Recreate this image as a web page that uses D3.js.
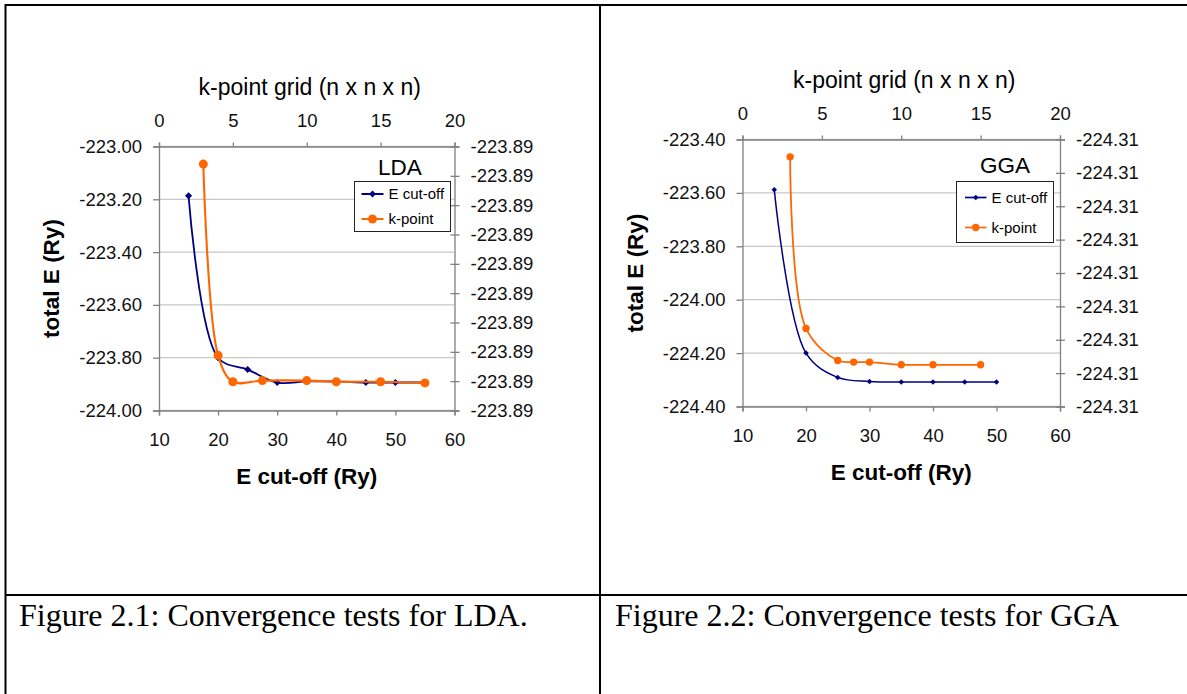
<!DOCTYPE html>
<meta charset="utf-8">
<script src="https://d3js.org/d3.v7.min.js"></script>
<style>
  body { margin: 0; background: #fff; }
  svg { display: block; }
</style>
<div id="my_dataviz"></div>
<script>

// ---- data ----
// LDA: total energy vs plane-wave cut-off (bottom / left axes)
var ldaEcut  = [15, 20, 25, 30, 35, 40, 45, 50, 55];
var ldaEcutE = [-223.187, -223.800, -223.845, -223.894, -223.890, -223.890, -223.894, -223.894, -223.894];
// LDA: total energy vs k-point grid (top / right axes)
var ldaKgrid  = [3, 4, 5, 7, 10, 12, 15, 18];
var ldaKgridE = [-223.88730, -223.89056, -223.89101, -223.89099, -223.89099, -223.89101, -223.89101, -223.89103];

// GGA
var ggaEcut  = [15, 20, 25, 30, 35, 40, 45, 50];
var ggaEcutE = [-223.588, -224.200, -224.291, -224.306, -224.3085, -224.3085, -224.3085, -224.3085];
var ggaKgrid  = [3, 4, 6, 7, 8, 10, 12, 15];
var ggaKgridE = [-224.30652, -224.31166, -224.31262, -224.31267, -224.31267, -224.31275, -224.31275, -224.31275];

// tick values
var ecutTicks  = [10, 20, 30, 40, 50, 60];
var kgridTicks = [0, 5, 10, 15, 20];
var ldaLeftTicks  = [-223.0, -223.2, -223.4, -223.6, -223.8, -224.0];
var ldaRightTicks = [-223.8870, -223.8875, -223.8880, -223.8885, -223.8890, -223.8895, -223.8900, -223.8905, -223.8910, -223.8915];
var ggaLeftTicks  = [-223.4, -223.6, -223.8, -224.0, -224.2, -224.4];
var ggaRightTicks = [-224.306, -224.307, -224.308, -224.309, -224.310, -224.311, -224.312, -224.313, -224.314];

var seriesNames = ["E cut-off", "k-point"];
var captions = ["Figure 2.1: Convergence tests for LDA.", "Figure 2.2: Convergence tests for GGA"];

var sans = "'Liberation Sans', Arial, sans-serif";
var blue = "#000080", orange = "#ff6600";

var svg = d3.select("#my_dataviz")
  .append("svg")
    .attr("width", 1187)
    .attr("height", 694);

// table grid of the document
var table = svg.append("g").attr("stroke", "#000").attr("stroke-width", 2).attr("fill", "none");
table.append("line").attr("x1", 5.5).attr("x2", 1187).attr("y1", 5).attr("y2", 5);
table.append("line").attr("x1", 5.5).attr("x2", 5.5).attr("y1", 4).attr("y2", 694);
table.append("line").attr("x1", 600).attr("x2", 600).attr("y1", 4).attr("y2", 694);
table.append("line").attr("x1", 5.5).attr("x2", 1187).attr("y1", 595).attr("y2", 595);

svg.selectAll(".caption")
  .data(captions)
  .enter().append("text")
    .attr("class", "caption")
    .attr("x", function(d, i) { return i == 0 ? 19 : 615; })
    .attr("y", 626)
    .style("font", "32px 'Liberation Serif', 'Times New Roman', serif")
    .text(function(d) { return d; });

function fmt(d) { return d.toFixed(2); }

function styleAxis(sel) {
  sel.select(".domain").attr("stroke", "#808080").attr("stroke-width", 1.3);
  sel.selectAll(".tick line").attr("stroke", "#808080").attr("stroke-width", 1.3);
  sel.selectAll(".tick text").attr("fill", "#111").style("font", "18.5px " + sans);
}

function drawPanel(p) {
  var g = svg.append("g");

  var x  = d3.scaleLinear().domain([10, 60]).range([p.left, p.right]);
  var x2 = d3.scaleLinear().domain([0, 20]).range([p.left, p.right]);
  var y  = d3.scaleLinear().domain([p.leftTicks[p.leftTicks.length - 1], p.leftTicks[0]]).range([p.bottom, p.top]);
  var y2 = d3.scaleLinear().domain([p.rightTicks[p.rightTicks.length - 1], p.rightTicks[0]]).range([p.bottom, p.top]);

  // gridlines
  g.append("g").selectAll("line")
    .data(p.leftTicks)
    .enter().append("line")
      .attr("x1", p.left).attr("x2", p.right)
      .attr("y1", function(d) { return y(d); })
      .attr("y2", function(d) { return y(d); })
      .attr("stroke", "#c8c8c8")
      .attr("stroke-width", 1.3);

  // axes
  g.append("g")
    .attr("transform", "translate(0," + p.bottom + ")")
    .call(d3.axisBottom(x).tickValues(ecutTicks).tickSize(5).tickPadding(17).tickFormat(d3.format("d")))
    .call(styleAxis);
  g.append("g")
    .attr("transform", "translate(0," + p.top + ")")
    .call(d3.axisTop(x2).tickValues(kgridTicks).tickSize(4).tickPadding(16).tickFormat(d3.format("d")))
    .call(styleAxis);
  g.append("g")
    .attr("transform", "translate(" + p.left + ",0)")
    .call(d3.axisLeft(y).tickValues(p.leftTicks).tickSize(6).tickPadding(11).tickFormat(fmt))
    .call(styleAxis);
  var ra = g.append("g")
    .attr("transform", "translate(" + p.right + ",0)")
    .call(d3.axisRight(y2).tickValues(p.rightTicks).tickSize(5).tickPadding(11).tickFormat(fmt))
    .call(styleAxis);
  ra.selectAll(".tick line").attr("x1", -4);

  // axis titles
  g.append("text")
    .attr("x", (p.left + p.right) / 2 + 3).attr("y", p.top - 52)
    .attr("text-anchor", "middle")
    .style("font", "23px " + sans)
    .text("k-point grid (n x n x n)");
  g.append("text")
    .attr("x", (p.left + p.right) / 2).attr("y", p.bottom + 73)
    .attr("text-anchor", "middle")
    .style("font", "bold 22.5px " + sans)
    .text("E cut-off (Ry)");
  g.append("text")
    .attr("transform", "translate(" + (p.left - 100) + "," + ((p.top + p.bottom) / 2) + ") rotate(-90)")
    .attr("text-anchor", "middle")
    .style("font", "bold 22.5px " + sans)
    .text("total E (Ry)");

  // series: E cut-off on primary axes, k-point on secondary axes
  var line1 = d3.line().curve(d3.curveCatmullRom)
    .x(function(d) { return x(d[0]); }).y(function(d) { return y(d[1]); });
  var line2 = d3.line().curve(d3.curveCatmullRom)
    .x(function(d) { return x2(d[0]); }).y(function(d) { return y2(d[1]); });

  var s1 = d3.zip(p.ecut, p.ecutE);
  var s2 = d3.zip(p.kgrid, p.kgridE);

  g.append("path").datum(s1)
    .attr("d", line1).attr("fill", "none").attr("stroke", blue).attr("stroke-width", p.lw);
  g.append("g").selectAll("path")
    .data(s1)
    .enter().append("path")
      .attr("d", d3.symbol(d3.symbolSquare, p.dia))
      .attr("transform", function(d) { return "translate(" + x(d[0]) + "," + y(d[1]) + ") rotate(45)"; })
      .attr("fill", blue);

  g.append("path").datum(s2)
    .attr("d", line2).attr("fill", "none").attr("stroke", orange).attr("stroke-width", p.lw + 0.3);
  g.append("g").selectAll("circle")
    .data(s2)
    .enter().append("circle")
      .attr("cx", function(d) { return x2(d[0]); })
      .attr("cy", function(d) { return y2(d[1]); })
      .attr("r", p.r)
      .attr("fill", orange);

  // panel label
  g.append("text")
    .attr("x", p.labelX).attr("y", p.labelY)
    .attr("text-anchor", "middle")
    .style("font", "22.5px " + sans)
    .text(p.label);

  // legend
  var lg = g.append("g").attr("transform", "translate(" + p.legX + "," + p.legY + ")");
  lg.append("rect")
    .attr("width", p.legW).attr("height", p.legH)
    .attr("fill", "#fff").attr("stroke", "#222").attr("stroke-width", 1);
  var rows = lg.selectAll(".row")
    .data(seriesNames)
    .enter().append("g")
      .attr("transform", function(d, i) { return "translate(0," + (p.rowY + i * p.rowGap) + ")"; });
  rows.append("line")
    .attr("x1", p.symX0).attr("x2", p.symX1)
    .attr("stroke", function(d, i) { return i == 0 ? blue : orange; })
    .attr("stroke-width", p.lw + 0.2);
  rows.append("path")
    .attr("d", function(d, i) { return i == 0 ? d3.symbol(d3.symbolSquare, p.dia)() : d3.symbol(d3.symbolCircle, Math.PI * p.r * p.r)(); })
    .attr("transform", function(d, i) { return "translate(" + (p.symX0 + p.symX1) / 2 + ",0)" + (i == 0 ? " rotate(45)" : ""); })
    .attr("fill", function(d, i) { return i == 0 ? blue : orange; });
  rows.append("text")
    .attr("x", p.symX1 + 5).attr("dy", "0.35em")
    .style("font", "15px " + sans)
    .text(function(d) { return d; });
}

drawPanel({
  left: 159, right: 454.5, top: 146.5, bottom: 410.5,
  leftTicks: ldaLeftTicks, rightTicks: ldaRightTicks,
  ecut: ldaEcut, ecutE: ldaEcutE, kgrid: ldaKgrid, kgridE: ldaKgridE,
  lw: 1.8, dia: 25, r: 4.5,
  label: "LDA", labelX: 400, labelY: 175,
  legX: 354.5, legY: 181.5, legW: 96, legH: 50, rowY: 12.5, rowGap: 25, symX0: 7, symX1: 29
});

drawPanel({
  left: 742.5, right: 1060, top: 139.5, bottom: 406.5,
  leftTicks: ggaLeftTicks, rightTicks: ggaRightTicks,
  ecut: ggaEcut, ecutE: ggaEcutE, kgrid: ggaKgrid, kgridE: ggaKgridE,
  lw: 1.5, dia: 15, r: 3.7,
  label: "GGA", labelX: 1005, labelY: 172.5,
  legX: 956.5, legY: 181.5, legW: 97, legH: 61, rowY: 16, rowGap: 30, symX0: 8.5, symX1: 30
});

</script>
